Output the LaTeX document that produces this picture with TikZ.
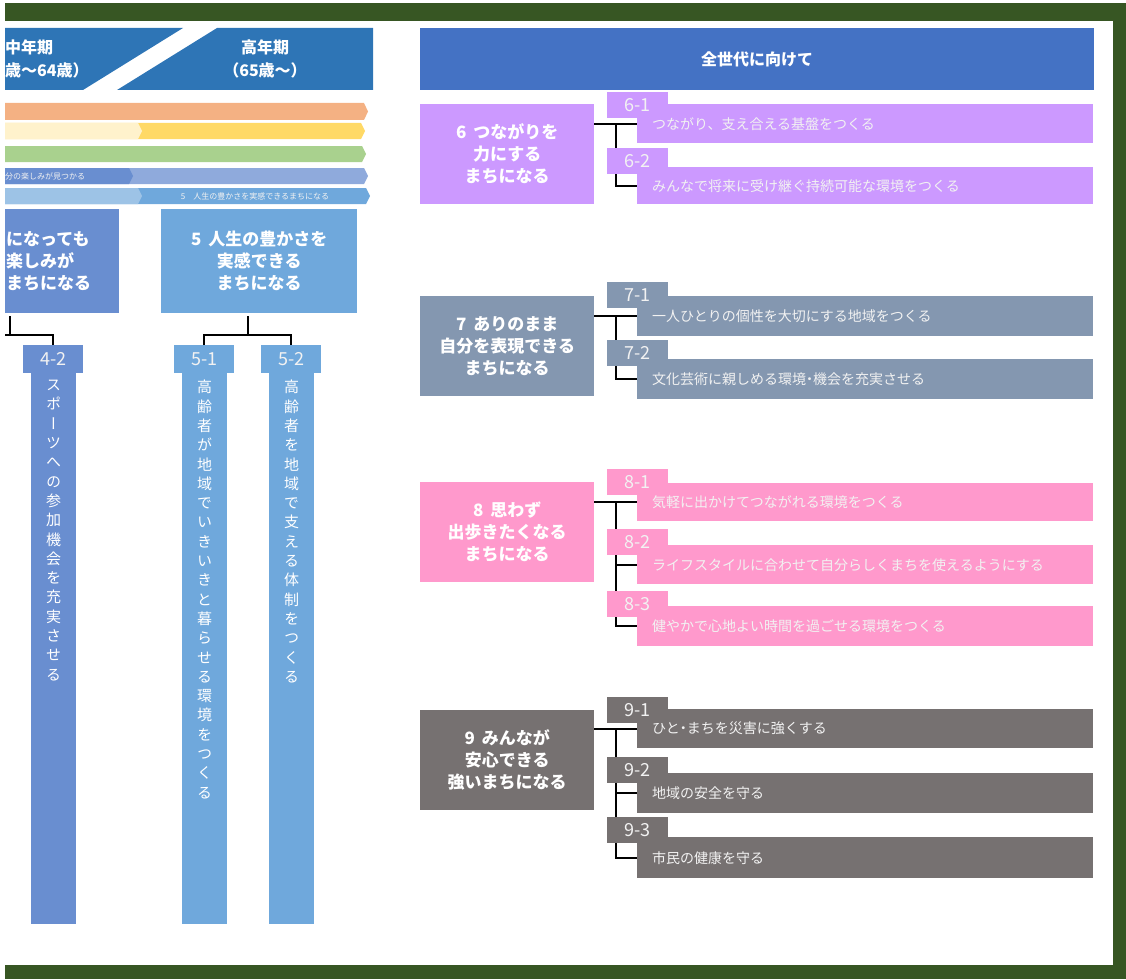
\documentclass[tikz,border=0pt]{standalone}
\usepackage{fontspec}
\setmainfont{Noto Sans CJK JP}
\newfontfamily\vertfont{Noto Sans CJK JP}[RawFeature=+vert]
\usetikzlibrary{positioning,calc}

\definecolor{framegreen}{HTML}{375623}
\definecolor{agebl}{HTML}{2E75B6}
\definecolor{allbl}{HTML}{4472C4}
\definecolor{th1}{HTML}{F4B183}
\definecolor{th2a}{HTML}{FFF2CC}
\definecolor{th2}{HTML}{FFD966}
\definecolor{th3}{HTML}{A9D18E}
\definecolor{th4}{HTML}{698ED0}
\definecolor{th4b}{HTML}{8FAADC}
\definecolor{th5}{HTML}{6FA8DC}
\definecolor{th5a}{HTML}{9DC3E6}
\definecolor{th6}{HTML}{CC99FF}
\definecolor{th7}{HTML}{8497B0}
\definecolor{th8}{HTML}{FF99CC}
\definecolor{th9}{HTML}{767171}
\definecolor{paletext}{HTML}{F2F2F2}

\newcommand{\nakadot}{\makebox[0.5em]{・}}

\tikzset{
  goalbox/.style={anchor=north west, minimum width=174pt, minimum height=100pt, inner sep=0pt,
    text=white, align=center, font=\bfseries\fontsize{17}{22}\selectfont},
  tabbox/.style={anchor=north west, minimum width=61pt, minimum height=26pt, inner sep=0pt,
    text=paletext, font=\fontsize{18}{18}\selectfont},
  barbox/.style={anchor=north west, text width=426pt, inner xsep=15pt, inner ysep=0pt,
    align=left, text=paletext, font=\fontsize{14}{14}\selectfont},
  colbox/.style={anchor=north west, minimum width=45pt, minimum height=551pt, inner sep=0pt},
  coltext/.style={anchor=north, inner sep=0pt, align=center, text=white,
    font=\vertfont\fontsize{15}{19.3}\selectfont},
  minitext/.style={inner sep=0pt, text=paletext, font=\fontsize{8}{8}\selectfont},
  link/.style={line width=2pt}
}

\begin{document}
\begin{tikzpicture}[x=1pt,y=-1pt]
  \useasboundingbox (0,0) rectangle (1126,979);
  % frame
  \fill[framegreen] (5,3) rectangle (1126,21);
  \fill[framegreen] (1113,3) rectangle (1126,979);
  \fill[framegreen] (5,965) rectangle (1126,979);

  % age header
  \fill[agebl] (5,28) -- (183,28) -- (83,90) -- (5,90) -- cycle;
  \fill[agebl] (217,28) -- (373,28) -- (373,90) -- (117,90) -- cycle;
  \node[anchor=west, inner sep=0pt, align=left, text=white,
    font=\bfseries\fontsize{16}{23}\selectfont] (midage) at (5,59) {中年期\\歳～64歳）};
  \node[inner sep=0pt, align=center, text=white,
    font=\bfseries\fontsize{16}{23}\selectfont] (oldage) at (265,59) {高年期\\（65歳～）};

  % theme bars
  \foreach \ya/\yb/\xe/\col in {103/120/364/th1, 123/139/361/th2, 123/139/138/th2a,
      146/162/362/th3, 168/184/364/th4b, 168/184/129/th4, 188/204/366/th5, 188/204/138/th5a}
    \fill[\col] (5,\ya) -- (\xe,\ya) -- ({\xe+4},{(\ya+\yb)/2}) -- (\xe,\yb) -- (5,\yb) -- cycle;
  \node[minitext, anchor=west] (bar4) at (5,176) {分の楽しみが見つかる};
  \node[minitext] (bar5) at (255,196) {5　人生の豊かさを実感できるまちになる};

  % goals 4 and 5
  \node[goalbox, fill=th4, minimum width=114pt, minimum height=104pt, align=left,
    text width=112pt, inner xsep=1pt] (g4) at (5,209) {になっても\\楽しみが\\まちになる};
  \node[goalbox, fill=th5, minimum width=196pt, minimum height=104pt] (g5) at (161,209)
    {5\hspace{0.4em}人生の豊かさを\\実感できる\\まちになる};

  \node[tabbox, fill=th4, minimum width=60pt, minimum height=28pt] (t42) at (23,345) {4-2};
  \node[tabbox, fill=th5, minimum width=60pt, minimum height=28pt] (t51) at (174,345) {5-1};
  \node[tabbox, fill=th5, minimum width=60pt, minimum height=28pt] (t52) at (261,345) {5-2};
  \node[colbox, fill=th4] (col42) at (31,373) {};
  \node[colbox, fill=th5] (col51) at (182,373) {};
  \node[colbox, fill=th5] (col52) at (269,373) {};
  \node[coltext, below=7pt of col42.north] (s42)
    {ス\\ポ\\ー\\ツ\\へ\\の\\参\\加\\機\\会\\を\\充\\実\\さ\\せ\\る};
  \node[coltext, below=7pt of col51.north] (s51)
    {高\\齢\\者\\が\\地\\域\\で\\い\\き\\い\\き\\と\\暮\\ら\\せ\\る\\環\\境\\を\\つ\\く\\る};
  \node[coltext, below=7pt of col52.north] (s52)
    {高\\齢\\者\\を\\地\\域\\で\\支\\え\\る\\体\\制\\を\\つ\\く\\る};

  \coordinate (j4) at (10,335);
  \coordinate (e4) at (5,335);
  \draw[link] (j4 |- g4.south) ++(0,3) -- (j4);
  \draw[link] (e4) -| (t42.north);
  \coordinate (j5) at ($(t51.north)!0.5!(t52.north)+(0,-10)$);
  \draw[link] (j5 |- g5.south) ++(0,3) -- (j5);
  \draw[link] (t51.north) |- (j5) -| (t52.north);

  % all generations
  \node[anchor=north west, fill=allbl, minimum width=674pt, minimum height=62pt, text=white,
    font=\bfseries\fontsize{16}{16}\selectfont] (allage) at (420,28) {全世代に向けて};

  \node[goalbox, fill=th6] (g6) at (420,104) {6\hspace{0.4em}つながりを\\力にする\\まちになる};
  \node[goalbox, fill=th7] (g7) at (420,296) {7\hspace{0.4em}ありのまま\\自分を表現できる\\まちになる};
  \node[goalbox, fill=th8] (g8) at (420,482) {8\hspace{0.4em}思わず\\出歩きたくなる\\まちになる};
  \node[goalbox, fill=th9] (g9) at (420,710) {9\hspace{0.4em}みんなが\\安心できる\\強いまちになる};

  \node[barbox, fill=th6, minimum height=39pt] (b61) at (637,104) {つながり、支え合える基盤をつくる};
  \node[barbox, fill=th6, minimum height=37pt] (b62) at (637,167) {みんなで将来に受け継ぐ持続可能な環境をつくる};
  \node[barbox, fill=th7, minimum height=40pt] (b71) at (637,296) {一人ひとりの個性を大切にする地域をつくる};
  \node[barbox, fill=th7, minimum height=40pt] (b72) at (637,359) {文化芸術に親しめる環境\nakadot 機会を充実させる};
  \node[barbox, fill=th8, minimum height=38pt] (b81) at (637,483) {気軽に出かけてつながれる環境をつくる};
  \node[barbox, fill=th8, minimum height=39pt] (b82) at (637,545) {ライフスタイルに合わせて自分らしくまちを使えるようにする};
  \node[barbox, fill=th8, minimum height=40pt] (b83) at (637,606) {健やかで心地よい時間を過ごせる環境をつくる};
  \node[barbox, fill=th9, minimum height=39pt] (b91) at (637,709) {ひと\nakadot まちを災害に強くする};
  \node[barbox, fill=th9, minimum height=40pt] (b92) at (637,773) {地域の安全を守る};
  \node[barbox, fill=th9, minimum height=41pt] (b93) at (637,837) {市民の健康を守る};

  % tree links
  \foreach \g in {6,7,8,9}
    \draw[link] (g\g.east |- b\g1.west) -- (b\g1.west);
  \draw[link] ([xshift=-21pt]b61.west) |- (b62.west);
  \draw[link] ([xshift=-21pt]b71.west) |- (b72.west);
  \draw[link] ([xshift=-21pt]b81.west) |- (b83.west);
  \draw[link] ([xshift=-21pt]b82.west) -- (b82.west);
  \draw[link] ([xshift=-21pt]b91.west) |- (b93.west);
  \draw[link] ([xshift=-21pt]b92.west) -- (b92.west);

  % number tabs over bars and links
  \node[tabbox, fill=th6] (t61) at (607,92) {6-1};
  \node[tabbox, fill=th6] (t62) at (607,148) {6-2};
  \node[tabbox, fill=th7] (t71) at (607,282) {7-1};
  \node[tabbox, fill=th7] (t72) at (607,340) {7-2};
  \node[tabbox, fill=th8] (t81) at (607,469) {8-1};
  \node[tabbox, fill=th8] (t82) at (607,529) {8-2};
  \node[tabbox, fill=th8] (t83) at (607,591) {8-3};
  \node[tabbox, fill=th9] (t91) at (607,697) {9-1};
  \node[tabbox, fill=th9] (t92) at (607,757) {9-2};
  \node[tabbox, fill=th9] (t93) at (607,817) {9-3};
\end{tikzpicture}
\end{document}
